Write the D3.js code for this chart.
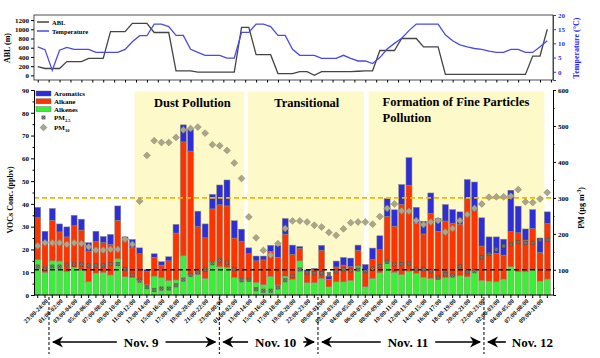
<!DOCTYPE html>
<html><head><meta charset="utf-8">
<script src="https://cdn.jsdelivr.net/npm/d3@7"></script>
<style>
body{margin:0;background:#fff}
svg{display:block}
text{font-family:"Liberation Serif","Times New Roman",serif;font-weight:bold}
</style>
</head><body>
<svg id="c" width="600" height="358"></svg>
<script>
// ---------------- DATA ----------------
const alkenes = [15.5,9.9,15,14.9,10.2,12.1,11,5.8,9.6,9.9,8.8,15.9,8,7.6,6.6,4.5,8.3,7.6,6.3,6.6,17.2,8.8,9.1,7.3,14.6,12.4,12.1,7.7,7.3,6.6,5.5,4.5,8.2,4.4,8.3,6.9,15,5.4,5.4,7.3,3.6,5.8,5.8,6.4,12.7,3.6,7.3,9.8,14.8,10,9,10.5,9.5,7.8,7.3,7,7.6,8.2,8.4,8,10.6,6.4,6.1,5.8,7,12.4,10.2,10.2,11.4,6.1,7];
const alkane = [18.4,13.7,17.8,12.8,15.3,18.3,17.5,13.5,13.8,13.1,13.4,16.9,16.8,13.1,11.5,5.8,8.2,5.5,8.7,20.6,50,54.4,20.9,17.8,23.2,27.2,27,17.3,16.2,11.5,9.5,10.9,11,12.1,18.4,10.9,5.4,4.8,5.6,12.3,3.3,6.5,7.3,6,6.9,7.6,8.3,10.1,19.7,20.2,30.8,37.7,22.1,19,28.5,21,24.9,23.2,22.7,34.4,26.6,15.1,11.8,12.5,10.5,15.4,17.1,13.9,17.8,12.5,24.4];
const aromatics = [4.6,4.4,5.2,3.5,4.4,4.6,4.8,3.7,4.6,2.7,4.4,6.3,0.7,3.7,2.6,0.9,1.6,1.5,1.8,3.8,7.5,9.4,6.8,6.1,6.4,8.7,11.4,7.6,5.4,2.6,2.1,1.7,2.6,5.3,6.9,4.1,0.9,0.8,0.7,2.2,1.4,2.6,3.4,3.8,2.3,2.2,5,6.1,7.8,7.2,8.7,12.1,6.9,5.6,9,5.6,7.2,6.1,5.4,8.3,12.4,12.4,7.6,7.2,7,18.2,11.7,4.9,8.3,6.4,5.1];
const pm10 = [167,175,175,175,171,175,173,164,155,155,157,157,185,171,291,418,459,454,454,468,489,493,497,480,448,445,432,397,354,247,189,154,141,173,215,236,236,233,224,219,204,196,214,231,233,233,227,248,271,283,264,263,237,226,233,237,205,215,237,254,271,283,302,303,303,305,323,289,287,297,315];
const pm25 = [109,104,109,109,114,115,115,112,112,112,116,116,102,86,70,52,44,48,48,57,73,86,93,100,118,126,120,102,71,72,46,42,42,51,71,83,101,92,91,91,88,95,102,98,101,96,104,110,122,115,116,118,102,102,96,78,88,84,109,94,96,135,144,157,166,171,177,175,175,183,183];
const abl = [190,150,150,150,300,300,300,370,370,370,950,950,950,1130,1130,1130,930,930,930,100,100,100,70,70,70,70,70,70,1040,1040,450,450,450,40,40,40,80,80,0,80,80,80,80,80,90,100,100,540,540,540,800,800,800,620,620,620,20,20,20,20,20,20,20,20,20,20,20,20,420,420,1000];
const temperature = [8.8,7.8,0.5,7.6,8.6,7.9,7.9,7.9,6.8,6.8,6.8,6.8,7.9,10.6,12.7,12.7,16.8,16.8,15.9,12.8,12.8,7.9,6.8,5.8,5.8,5.8,4.8,4.8,13.9,13.9,16.8,16.8,15.9,12.8,12.8,7.9,5.8,5.8,5.8,4.7,4.7,4.7,5.8,4.7,3.8,3.8,2.9,5.0,8.0,10,11.8,14.5,16.8,16.8,16.8,16.8,13,10.9,9.5,8.8,8.2,7.9,7.3,6.8,6.8,7.9,7.9,6.8,6.8,8.8,10.9];
const xLabels = ["23:00-24:00","01:00-02:00","03:00-04:00","05:00-06:00","07:00-08:00","09:00-10:00","11:00-12:00","13:00-14:00","15:00-16:00","17:00-18:00","19:00-20:00","21:00-22:00","23:00-00:00","01:00-02:00","13:00-14:00","15:00-16:00","17:00-18:00","19:00-20:00","22:00-23:00","00:00-01:00","02:00-03:00","04:00-05:00","06:00-07:00","08:00-09:00","10:00-11:00","12:00-13:00","14:00-15:00","16:00-17:00","18:00-19:00","20:00-21:00","22:00-23:00","02:00-03:00","04:00-05:00","07:00-08:00","09:00-10:00"];
const vocTicks = [0,10,20,30,40,50,60,70,80,90];
const pmTicks = [100,200,300,400,500,600];
const ablTicks = [0,200,400,600,800,1000,1200];
const tempTicks = [0,5,10,15,20];
const periods = ["Dust Pollution","Transitional","Formation of Fine Particles"];
const periodFrom = [13.3,28.85,45.45];
const periodTo = [28.35,44.8,69.6];
const days = ["Nov. 9","Nov. 10","Nov. 11","Nov. 12"];
const dayBounds = [1.55,24.95,38.5,61.3,70.6];
const pmLimits = [300,100];

(function () {
// ---------------- SCALES ----------------
const N = alkenes.length;
const svg = d3.select("#c");
const X0 = 34, X1 = 553;
const x = d3.scaleBand().domain(d3.range(N)).range([X0, X1 - 2]).paddingInner(0.18).paddingOuter(0.1);
const xf = t => x(0) + x.bandwidth() / 2 + t * x.step();
const yL = d3.scaleLinear().domain([0, 90]).range([295, 90]);
const yR = d3.scaleLinear().domain([30, 600]).range([295, 90]);
const yA = d3.scaleLinear().domain([-100, 1310]).range([80, 15]);
const yT = d3.scaleLinear().domain([-2.9, 20]).range([80, 15]);

const BLUE = "#2e2ed8", RED = "#ff3300", GREEN = "#38f038";
const tempColor = "#4a4ae6";

// ---------------- TOP PANEL ----------------
const topG = svg.append("g");
topG.append("rect").attr("x", X0).attr("y", 15).attr("width", X1 - X0).attr("height", 65)
  .attr("fill", "none").attr("stroke", "#222").attr("stroke-width", 0.8);
const gA = topG.append("g").attr("transform", `translate(${X0},0)`)
  .call(d3.axisLeft(yA).tickValues(ablTicks).tickSize(3).tickPadding(2).tickFormat(d3.format("d")));
gA.selectAll("text").attr("font-size", 7);
gA.select(".domain").remove();
const gT = topG.append("g").attr("transform", `translate(${X1},0)`)
  .call(d3.axisRight(yT).tickValues(tempTicks).tickSize(3).tickPadding(2));
gT.selectAll("text").attr("font-size", 7).attr("fill", "#3030ff");
gT.selectAll("line").attr("stroke", "#3030ff");
gT.select(".domain").attr("stroke", "#3030ff");
const gTx = topG.append("g").attr("transform", `translate(0,80)`)
  .call(d3.axisBottom(d3.scaleLinear().domain([0, N - 1]).range([xf(0), xf(N - 1)])).tickValues(d3.range(0, N, 1.5)).tickSize(2.5).tickFormat(""));
gTx.select(".domain").remove();

topG.append("path").datum(abl).attr("fill", "none").attr("stroke", "#444").attr("stroke-width", 1.3)
  .attr("d", d3.line().x((d, i) => xf(i)).y(d => yA(d)));
topG.append("path").datum(temperature).attr("fill", "none").attr("stroke", tempColor).attr("stroke-width", 1.3)
  .attr("d", d3.line().x((d, i) => xf(i)).y(d => yT(d)));

topG.append("text").attr("transform", `translate(10,48) rotate(-90)`).attr("text-anchor", "middle")
  .attr("font-size", 8).text("ABL (m)");
topG.append("text").attr("transform", `translate(579,48) rotate(-90)`).attr("text-anchor", "middle")
  .attr("font-size", 8).attr("fill", "#2020ff").text("Temperature (°C)");
[["ABL", "#444"], ["Temperature", tempColor]].forEach((d, i) => {
  const yy = 22 + i * 9;
  topG.append("line").attr("x1", 37).attr("x2", 49).attr("y1", yy).attr("y2", yy).attr("stroke", d[1]).attr("stroke-width", 1.5);
  topG.append("text").attr("x", 52).attr("y", yy + 2.5).attr("font-size", 6.5).text(d[0]);
});

// ---------------- BOTTOM PANEL ----------------
const bot = svg.append("g");
periods.forEach((p, i) => {
  bot.append("rect").attr("x", xf(periodFrom[i])).attr("y", yL(89.3))
    .attr("width", xf(periodTo[i]) - xf(periodFrom[i])).attr("height", yL(0) - yL(89.3))
    .attr("fill", "#fdf9c9");
});

const rows = d3.range(N).map(i => ({i, alkenes: alkenes[i], alkane: alkane[i], aromatics: aromatics[i]}));
const keys = ["alkenes", "alkane", "aromatics"];
const colors = {alkenes: GREEN, alkane: RED, aromatics: BLUE};
const stack = d3.stack().keys(keys)(rows);
stack.forEach(layer => {
  bot.append("g").selectAll("rect").data(layer).join("rect")
    .attr("x", d => x(d.data.i)).attr("width", x.bandwidth())
    .attr("y", d => yL(d[1])).attr("height", d => yL(d[0]) - yL(d[1]))
    .attr("fill", colors[layer.key]).attr("stroke", "#8a8a7a").attr("stroke-width", 0.5);
});

bot.append("line").attr("x1", X0).attr("x2", X1).attr("y1", yR(pmLimits[0])).attr("y2", yR(pmLimits[0]))
  .attr("stroke", "#f2b705").attr("stroke-width", 1.8).attr("stroke-dasharray", "5,3");
bot.append("line").attr("x1", X0).attr("x2", X1).attr("y1", yR(pmLimits[1])).attr("y2", yR(pmLimits[1]))
  .attr("stroke", "#111").attr("stroke-width", 1.6).attr("stroke-dasharray", "5,3");

const diamond = "M0,-3.4L3.4,0L0,3.4L-3.4,0Z";
const xbox = "M-1.6,-1.6H1.6V1.6H-1.6ZM-1.6,-1.6L1.6,1.6M1.6,-1.6L-1.6,1.6";
bot.append("g").selectAll("path").data(pm10).join("path")
  .attr("transform", (d, i) => `translate(${xf(i)},${yR(d)})`).attr("d", diamond)
  .attr("fill", "#aaa68a").attr("stroke", "#8c8870").attr("stroke-width", 0.6);
bot.append("g").selectAll("path").data(pm25).join("path")
  .attr("transform", (d, i) => `translate(${xf(i)},${yR(d)})`).attr("d", xbox)
  .attr("fill", "#9a9a8a").attr("stroke", "#444").attr("stroke-width", 0.6);

const gL = bot.append("g").attr("transform", `translate(${X0},0)`)
  .call(d3.axisLeft(yL).tickValues(vocTicks).tickSize(3).tickPadding(2));
gL.selectAll("text").attr("font-size", 7);
bot.append("g").attr("transform", `translate(${X0},0)`)
  .call(d3.axisLeft(yL).tickValues(d3.range(5, 90, 10)).tickSize(1.5).tickFormat(""))
  .select(".domain").remove();
const gR = bot.append("g").attr("transform", `translate(${X1},0)`)
  .call(d3.axisRight(yR).tickValues(pmTicks).tickSize(3).tickPadding(2));
gR.selectAll("text").attr("font-size", 7);
bot.append("g").attr("transform", `translate(${X1},0)`)
  .call(d3.axisRight(yR).tickValues(d3.range(50, 600, 100)).tickSize(1.5).tickFormat(""))
  .select(".domain").remove();
const gX = bot.append("g").attr("transform", `translate(0,295)`)
  .call(d3.axisBottom(x).tickSize(3).tickFormat(""));
gX.select(".domain").attr("d", `M${X0},0H${X1}`);
bot.append("g").selectAll("text").data(xLabels).join("text")
  .attr("transform", (d, i) => `translate(${xf(1 + 2 * i) + 2},${300}) rotate(-45)`)
  .attr("text-anchor", "end").attr("dy", "0.35em").attr("font-size", 6.3).text(d => d);

bot.append("text").attr("transform", `translate(13,200) rotate(-90)`).attr("text-anchor", "middle")
  .attr("font-size", 8).text("VOCs Conc. (ppbv)");
const pmT = bot.append("text").attr("transform", `translate(584,208) rotate(-90)`).attr("text-anchor", "middle")
  .attr("font-size", 8);
pmT.append("tspan").text("PM (µg m");
pmT.append("tspan").attr("dy", -3).attr("font-size", 5.5).text("-3");
pmT.append("tspan").attr("dy", 3).text(")");

bot.append("text").attr("x", (xf(periodFrom[0]) + xf(periodTo[0])) / 2 + 3).attr("y", 107).attr("text-anchor", "middle")
  .attr("font-size", 12.5).text(periods[0]);
bot.append("text").attr("x", (xf(periodFrom[1]) + xf(periodTo[1])) / 2 + 1).attr("y", 107).attr("text-anchor", "middle")
  .attr("font-size", 12.5).text(periods[1]);
bot.append("text").attr("x", xf(periodFrom[2]) + 14).attr("y", 106).attr("font-size", 12.5).text(periods[2]);
bot.append("text").attr("x", xf(periodFrom[2]) + 14).attr("y", 122).attr("font-size", 12.5).text("Pollution");

const legB = bot.append("g");
[["Aromatics", BLUE], ["Alkane", RED], ["Alkenes", GREEN]].forEach((d, i) => {
  const yy = 91 + i * 7.8;
  legB.append("rect").attr("x", 36).attr("y", yy).attr("width", 15).attr("height", 5).attr("fill", d[1]).attr("stroke", "#555").attr("stroke-width", 0.4);
  legB.append("text").attr("x", 54).attr("y", yy + 5).attr("font-size", 7).text(d[0]);
});
legB.append("path").attr("transform", "translate(43.5,117.5)").attr("d", xbox).attr("fill", "#9a9a8a").attr("stroke", "#444").attr("stroke-width", 0.6);
const t25 = legB.append("text").attr("x", 54).attr("y", 119.5).attr("font-size", 7);
t25.append("tspan").text("PM");
t25.append("tspan").attr("dy", 2).attr("font-size", 4.5).text("2.5");
legB.append("path").attr("transform", "translate(43.5,127.5)").attr("d", diamond).attr("fill", "#aaa68a").attr("stroke", "#8c8870").attr("stroke-width", 0.6);
const t10 = legB.append("text").attr("x", 54).attr("y", 129.5).attr("font-size", 7);
t10.append("tspan").text("PM");
t10.append("tspan").attr("dy", 2).attr("font-size", 4.5).text("10");

const defs = svg.append("defs");
defs.append("marker").attr("id", "ah").attr("viewBox", "0 0 10 10").attr("refX", 9).attr("refY", 5)
  .attr("markerWidth", 7).attr("markerHeight", 7).attr("orient", "auto-start-reverse")
  .append("path").attr("d", "M0,0L10,5L0,10L3,5Z").attr("fill", "#000");
dayBounds.slice(0, 4).forEach(b => {
  bot.append("line").attr("x1", xf(b)).attr("x2", xf(b)).attr("y1", 297).attr("y2", 354)
    .attr("stroke", "#000").attr("stroke-width", 1).attr("stroke-dasharray", "3,2");
});
const AY = 342;
days.forEach((d, i) => {
  const a = xf(dayBounds[i]) + 4, b = xf(dayBounds[i + 1]) - 4;
  const last = i === days.length - 1;
  if (!last) {
    const mid = (a + b) / 2 + 7;
    const t = bot.append("text").attr("x", mid).attr("y", AY + 4.5).attr("text-anchor", "middle").attr("font-size", 13).text(d);
    const w = t.node().getComputedTextLength();
    bot.append("line").attr("x1", mid - w / 2 - 7).attr("x2", a).attr("y1", AY).attr("y2", AY)
      .attr("stroke", "#000").attr("stroke-width", 1.6).attr("marker-end", "url(#ah)");
    bot.append("line").attr("x1", mid + w / 2 + 7).attr("x2", b).attr("y1", AY).attr("y2", AY)
      .attr("stroke", "#000").attr("stroke-width", 1.6).attr("marker-end", "url(#ah)");
  } else {
    const t = bot.append("text").attr("x", X1).attr("y", AY + 4.5).attr("text-anchor", "end").attr("font-size", 13).text(d);
    const w = t.node().getComputedTextLength();
    bot.append("line").attr("x1", X1 - w - 6).attr("x2", a).attr("y1", AY).attr("y2", AY)
      .attr("stroke", "#000").attr("stroke-width", 1.6).attr("marker-end", "url(#ah)");
  }
});
})();
</script>
</body></html>
